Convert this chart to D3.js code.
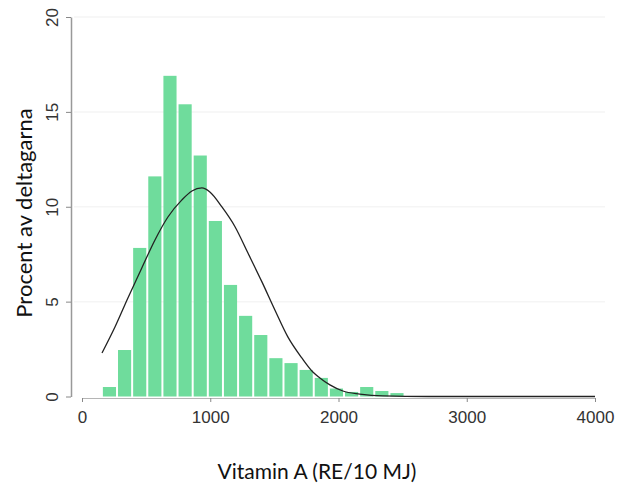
<!DOCTYPE html>
<html>
<head>
<meta charset="utf-8">
<script src="https://cdn.jsdelivr.net/npm/d3@7"></script>
<style>
  body { margin: 0; background: #fff; }
  svg { display: block; }
</style>
</head>
<body>
<svg id="chart" width="622" height="491"></svg>
<script>
// histogram bins (lower edge of each bin, RE/10 MJ) and share of participants (%)
const binEdges = [155, 273, 391, 509, 627, 745, 863, 981, 1099, 1217, 1335,
    1453, 1571, 1689, 1807, 1925, 2043, 2161, 2279, 2397, 2515];
const percents = [0.5, 2.45, 7.83, 11.6, 16.9, 15.4, 12.7, 9.25, 5.88, 4.25,
    3.24, 2.02, 1.76, 1.4, 0.98, 0.42, 0.24, 0.5, 0.29, 0.18];

// fitted normal curve
const curveX = [156, 257, 358, 468, 569, 670, 779, 857, 935, 997, 1091, 1192,
    1294, 1403, 1504, 1605, 1714, 1800, 1855, 1933, 2034, 2166, 2346, 2700, 3200, 4000];
const curveY = [2.29, 3.66, 5.19, 6.8, 8.25, 9.46, 10.36, 10.83, 10.99, 10.78, 9.99, 8.96,
    7.56, 6.04, 4.56, 3.14, 2.03, 1.29, 0.98, 0.61, 0.29, 0.13, 0.03, 0, 0, 0];

const xTicks = [0, 1000, 2000, 3000, 4000];
const yTicks = [0, 5, 10, 15, 20];

const svg = d3.select("#chart");

const x = d3.scaleLinear().domain([0, 4000]).range([82, 595]);
const y = d3.scaleLinear().domain([0, 20]).range([396.5, 17]);

// faint grid lines
svg.append("g").selectAll("line").data(yTicks.slice(1)).enter().append("line")
    .attr("x1", 74).attr("x2", 605)
    .attr("y1", d => y(d)).attr("y2", d => y(d))
    .attr("stroke", "#f5f5f5").attr("stroke-width", 1.5);

// bars
const bins = percents.map((v, i) => ({ x0: binEdges[i], x1: binEdges[i + 1], value: v }));
svg.append("g").selectAll("rect").data(bins).enter().append("rect")
    .attr("x", d => x(d.x0) + 1)
    .attr("width", d => x(d.x1) - x(d.x0) - 2)
    .attr("y", d => y(d.value))
    .attr("height", d => y(0) - y(d.value))
    .attr("fill", "#6fdc9c");

// axes
const xAxis = svg.append("g")
    .attr("transform", `translate(0,398)`)
    .call(d3.axisBottom(x).tickValues(xTicks).tickFormat(d3.format("d")).tickSize(4).tickSizeOuter(0));
xAxis.select(".domain").attr("stroke", "#b5b5b5");
xAxis.selectAll(".tick line").attr("stroke", "#888");
xAxis.selectAll("text")
    .attr("y", 13)
    .attr("fill", "#333")
    .style("font-family", "'Liberation Sans', Arial, sans-serif")
    .style("font-size", "17px");

const yAxis = svg.append("g")
    .attr("transform", `translate(71,0)`)
    .call(d3.axisLeft(y).tickValues(yTicks).tickSize(5).tickSizeOuter(0));
yAxis.select(".domain").attr("stroke", "#999").attr("stroke-width", 1.5);
yAxis.selectAll(".tick line").attr("stroke", "#888");
yAxis.selectAll("text")
    .attr("transform", "rotate(-90)")
    .attr("x", 0).attr("y", -13).attr("dy", null)
    .attr("text-anchor", "middle")
    .attr("fill", "#333")
    .style("font-family", "'Liberation Sans', Arial, sans-serif")
    .style("font-size", "17px");

// normal curve
const pts = curveX.map((v, i) => [v, curveY[i]]);
svg.append("path")
    .datum(pts)
    .attr("fill", "none")
    .attr("stroke", "#222")
    .attr("stroke-width", 1.3)
    .attr("d", d3.line().curve(d3.curveMonotoneX).x(d => x(d[0])).y(d => y(d[1])));

// titles
svg.append("text")
    .attr("transform", "translate(32,213) rotate(-90)")
    .attr("text-anchor", "middle")
    .style("font-family", "Lato, sans-serif")
    .style("font-size", "22px")
    .attr("fill", "#111")
    .text("Procent av deltagarna");

svg.append("text")
    .attr("x", 317).attr("y", 479)
    .attr("text-anchor", "middle")
    .style("font-family", "Lato, sans-serif")
    .style("font-size", "21px")
    .attr("fill", "#111")
    .text("Vitamin A (RE/10 MJ)");
</script>
</body>
</html>
